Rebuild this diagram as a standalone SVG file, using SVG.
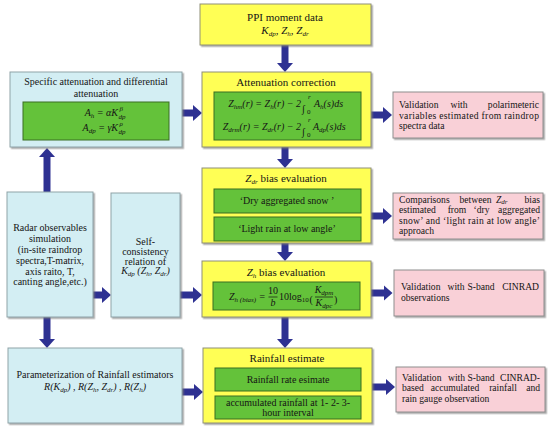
<svg xmlns="http://www.w3.org/2000/svg" width="550" height="428" viewBox="0 0 550 428" font-family="'Liberation Serif', serif">
<style>
.y{fill:#FFFF55;stroke:#8f8f78;stroke-width:1}
.g{fill:#64C23A;stroke:#3B6E22;stroke-width:1}
.b{fill:#D3EEF3;stroke:#8FA3A8;stroke-width:1}
.p{fill:#F9D0D7;stroke:#8E8E8E;stroke-width:1}
.sh{filter:url(#ds)}
text{font-family:"Liberation Serif","Times New Roman",serif;font-size:10px;fill:#151515}
.c{text-anchor:middle}
.e{text-anchor:end}
.h{font-size:11px}
.pk{font-size:9.6px}
.m{font-style:italic}
.s{font-size:7px}
.ar{stroke:#2E3192;stroke-width:7;fill:none;marker-end:url(#ah)}
</style>
<defs>
<marker id="ah" viewBox="0 0 9 16" refX="0.5" refY="8" markerWidth="9" markerHeight="16" markerUnits="userSpaceOnUse" orient="auto">
<path d="M0,0 L9,8 L0,16 z" fill="#2E3192"/>
</marker>
<filter id="ds" x="-5%" y="-5%" width="115%" height="120%">
<feDropShadow dx="1.5" dy="1.5" stdDeviation="0.7" flood-color="#777" flood-opacity="0.6"/>
</filter>
</defs>
<rect width="550" height="428" fill="#fff"/>

<g id="connectors">
<line class="ar" x1="285" y1="45" x2="285" y2="63.5"/>
<line class="ar" x1="182" y1="113" x2="193.5" y2="113"/>
<line class="ar" x1="371" y1="115" x2="383.5" y2="115"/>
<line class="ar" x1="285" y1="147" x2="285" y2="159.5"/>
<line class="ar" x1="371" y1="216" x2="383.5" y2="216"/>
<line class="ar" x1="285" y1="243" x2="285" y2="252.5"/>
<line class="ar" x1="371" y1="293" x2="384" y2="293"/>
<line class="ar" x1="285" y1="317" x2="285" y2="339.5"/>
<line class="ar" x1="372" y1="387" x2="386.5" y2="387"/>
<line class="ar" x1="47" y1="192" x2="47" y2="156.5"/>
<line class="ar" x1="93" y1="295" x2="102.5" y2="295"/>
<line class="ar" x1="180" y1="295" x2="193.5" y2="295"/>
<line class="ar" x1="47" y1="317" x2="47" y2="339.5"/>
<line class="ar" x1="182" y1="392" x2="194.5" y2="392"/>
</g>

<g id="ppi">
<rect class="y sh" x="200" y="4" width="171" height="41"/>
<text class="c h" x="285" y="21">PPI moment data</text>
<text class="c m h" x="285" y="34">K<tspan class="s" dy="2">dp</tspan><tspan dy="-2">, Z</tspan><tspan class="s" dy="2">h</tspan><tspan dy="-2">, Z</tspan><tspan class="s" dy="2">dr</tspan></text>
</g>

<g id="specific-attenuation">
<rect class="b sh" x="10" y="72" width="172" height="75"/>
<text class="c" x="96" y="85" font-size="10.5">Specific attenuation and differential</text>
<text class="c" x="96" y="97" font-size="10.5">attenuation</text>
<rect class="g" x="23" y="102" width="146" height="38"/>
<text class="e m" x="118" y="116">A<tspan class="s" dy="2">h</tspan><tspan dy="-2"> = αK</tspan></text>
<text class="m s" x="118.5" y="118.5">dp</text>
<text class="m s" x="119.5" y="111">β</text>
<text class="e m" x="118" y="131">A<tspan class="s" dy="2">dp</tspan><tspan dy="-2"> = γK</tspan></text>
<text class="m s" x="118.5" y="133.5">dp</text>
<text class="m s" x="119.5" y="126">ρ</text>
</g>

<g id="attenuation-correction">
<rect class="y sh" x="202" y="72" width="169" height="75"/>
<text class="c h" x="286" y="86">Attenuation correction</text>
<rect class="g" x="214" y="92" width="147" height="48"/>
<text class="e m" x="301" y="107">Z<tspan class="s" dy="2">hm</tspan><tspan dy="-2">(r) = Z</tspan><tspan class="s" dy="2">h</tspan><tspan dy="-2">(r) − 2</tspan></text>
<text class="m" x="302" y="112" font-size="17">∫</text>
<text class="m s" x="308" y="99">r</text>
<text class="s" x="307" y="114">0</text>
<text class="m" x="314" y="107">A<tspan class="s" dy="2">h</tspan><tspan dy="-2">(s)ds</tspan></text>
<text class="e m" x="301" y="130">Z<tspan class="s" dy="2">drm</tspan><tspan dy="-2">(r) = Z</tspan><tspan class="s" dy="2">dr</tspan><tspan dy="-2">(r) − 2</tspan></text>
<text class="m" x="302" y="135" font-size="17">∫</text>
<text class="m s" x="308" y="122">r</text>
<text class="s" x="307" y="137">0</text>
<text class="m" x="313" y="130">A<tspan class="s" dy="2">dp</tspan><tspan dy="-2">(s)ds</tspan></text>
</g>

<g id="validation-polarimetric">
<rect class="p sh" x="393" y="92" width="150" height="46"/>
<text class="pk" x="399" y="108">Validation</text>
<text class="pk c" x="459" y="108">with</text>
<text class="pk e" x="539" y="108">polarimeteric</text>
<text class="pk" x="399" y="118.5" textLength="140" lengthAdjust="spacing">variables estimated from raindrop</text>
<text class="pk" x="399" y="129">spectra data</text>
</g>

<g id="zdr-bias">
<rect class="y sh" x="202" y="168" width="169" height="75"/>
<text class="c h" x="286" y="182"><tspan class="m">Z</tspan><tspan class="m s" dy="2">dr</tspan><tspan dy="-2"> bias evaluation</tspan></text>
<rect class="g" x="214" y="189" width="147" height="24"/>
<text class="c" x="287" y="204">‘Dry aggregated snow ’</text>
<rect class="g" x="214" y="217" width="147" height="24"/>
<text class="c" x="287" y="232">‘Light rain at low angle’</text>
</g>

<g id="zdr-comparison">
<rect class="p sh" x="393" y="193" width="150" height="46"/>
<text class="pk" x="399" y="202.5">Comparisons</text>
<text class="pk c" x="475.5" y="202.5">between</text>
<text class="pk m" x="496" y="202.5">Z<tspan class="s" dy="1.2">dr</tspan></text>
<text class="pk e" x="540" y="202.5">bias</text>
<text class="pk" x="399" y="213.2">estimated</text>
<text class="pk c" x="457" y="213.2">from</text>
<text class="pk c" x="481.5" y="213.2">‘dry</text>
<text class="pk e" x="540" y="213.2">aggregated</text>
<text class="pk" x="399" y="223.7" textLength="141" lengthAdjust="spacing">snow’ and ‘light rain at low angle’</text>
<text class="pk" x="399" y="234">approach</text>
</g>

<g id="zh-bias">
<rect class="y sh" x="202" y="261" width="169" height="56"/>
<text class="c h" x="286" y="276"><tspan class="m">Z</tspan><tspan class="m s" dy="2">h</tspan><tspan dy="-2"> bias evaluation</tspan></text>
<rect class="g" x="213" y="282" width="147" height="28"/>
<text class="m" x="229" y="300">Z<tspan class="s" dy="2">h (bias)</tspan><tspan dy="-2"> =</tspan></text>
<text class="c" x="273" y="294">10</text>
<line x1="268.5" y1="297" x2="277.5" y2="297" stroke="#151515" stroke-width="0.7"/>
<text class="c m" x="273" y="306">b</text>
<text x="279" y="300">10log<tspan class="s" dy="2">10</tspan></text>
<text x="309.5" y="303" font-size="18">(</text>
<text class="c m" x="324" y="293">K<tspan class="s" dy="2">dpm</tspan></text>
<line x1="315" y1="297" x2="333" y2="297" stroke="#151515" stroke-width="0.7"/>
<text class="c m" x="324" y="306">K<tspan class="s" dy="2">dpc</tspan></text>
<text x="334" y="303" font-size="18">)</text>
</g>

<g id="validation-cinrad">
<rect class="p sh" x="394" y="270" width="150" height="46"/>
<text class="pk" x="401" y="289.5">Validation</text>
<text class="pk c" x="456" y="289.5">with</text>
<text class="pk c" x="481" y="289.5">S-band</text>
<text class="pk e" x="539" y="289.5">CINRAD</text>
<text class="pk" x="401" y="300.5">observations</text>
</g>

<g id="rainfall-estimate">
<rect class="y sh" x="203" y="348" width="169" height="75"/>
<text class="c h" x="287" y="362">Rainfall estimate</text>
<rect class="g" x="215" y="368" width="146" height="23"/>
<text class="c" x="288" y="383">Rainfall rate esimate</text>
<rect class="g" x="215" y="396" width="146" height="23"/>
<text class="c" x="288" y="405.5">accumulated rainfall at 1- 2- 3-</text>
<text class="c" x="288" y="416">hour interval</text>
</g>

<g id="validation-rainfall">
<rect class="p sh" x="396" y="367" width="149" height="45"/>
<text class="pk" x="402" y="380.5">Validation</text>
<text class="pk c" x="456.5" y="380.5">with</text>
<text class="pk c" x="481" y="380.5">S-band</text>
<text class="pk e" x="540" y="380.5">CINRAD-</text>
<text class="pk" x="402" y="391">based</text>
<text class="pk c" x="455" y="391">accumulated</text>
<text class="pk c" x="503" y="391">rainfall</text>
<text class="pk e" x="540" y="391">and</text>
<text class="pk" x="402" y="401.5">rain gauge observation</text>
</g>

<g id="radar-simulation">
<rect class="b sh" x="7" y="192" width="86" height="125"/>
<text class="c" x="50" y="231">Radar observables</text>
<text class="c" x="50" y="242">simulation</text>
<text class="c" x="50" y="253">(in-site raindrop</text>
<text class="c" x="50" y="264">spectra,T-matrix,</text>
<text class="c" x="50" y="274.5">axis raito, T,</text>
<text class="c" x="50" y="285">canting angle,etc.)</text>
</g>

<g id="self-consistency">
<rect class="b sh" x="111" y="193" width="69" height="124"/>
<text class="c" x="145.5" y="245">Self-</text>
<text class="c" x="145.5" y="255">consistency</text>
<text class="c" x="145.5" y="264.5">relation of</text>
<text class="c m" x="145.5" y="274">K<tspan class="s" dy="2">dp</tspan><tspan dy="-2"> (Z</tspan><tspan class="s" dy="2">h</tspan><tspan dy="-2">, Z</tspan><tspan class="s" dy="2">dr</tspan><tspan dy="-2">)</tspan></text>
</g>

<g id="parameterization">
<rect class="b sh" x="8" y="348" width="174" height="75"/>
<text class="c" x="95" y="378">Parameterization of Rainfall estimators</text>
<text class="c m" x="95" y="389.5">R(K<tspan class="s" dy="2">dp</tspan><tspan dy="-2">) , R(Z</tspan><tspan class="s" dy="2">h</tspan><tspan dy="-2">, Z</tspan><tspan class="s" dy="2">dr</tspan><tspan dy="-2">) , R(Z</tspan><tspan class="s" dy="2">h</tspan><tspan dy="-2">)</tspan></text>
</g>
</svg>
